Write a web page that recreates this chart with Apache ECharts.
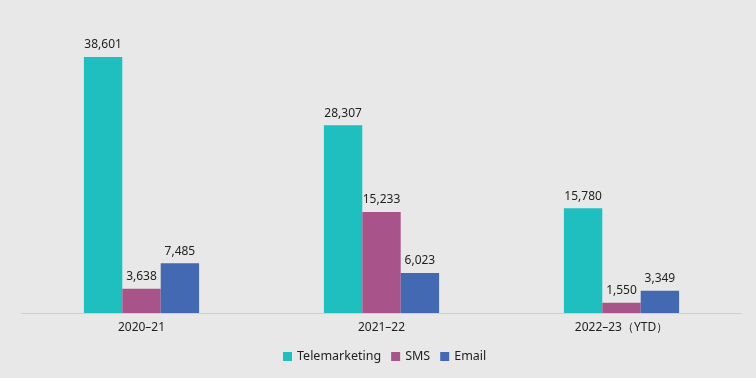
<!DOCTYPE html>
<html><head><meta charset="utf-8">
<script src="https://cdn.jsdelivr.net/npm/echarts@6/dist/echarts.min.js"></script>
<style>html,body{margin:0;padding:0;background:#e8e8e8}#c{width:756px;height:378px}</style>
</head><body><div id="c"></div>
<script>
const categories = ['2020\u201321', '2021\u201322', '2022\u201323\uff08YTD\uff09'];
const telemarketing = [38601, 28307, 15780];
const sms = [3638, 15233, 1550];
const email = [7485, 6023, 3349];
const seriesNames = ['Telemarketing', 'SMS', 'Email'];
const colors = ['#1fbfbf', '#a8548a', '#4369b3'];

const chart = echarts.init(document.getElementById('c'));
const font = '"Noto Sans", sans-serif';
function mk(name, data, color) {
  return {
    name, type: 'bar', data, barGap: '0%', barCategoryGap: '52%',
    itemStyle: { color },
    label: { show: true, position: 'top', distance: 6, color: '#222', fontSize: 12, fontFamily: font,
      formatter: p => p.value.toLocaleString('en-US') }
  };
}
chart.setOption({
  backgroundColor: '#e8e8e8',
  animation: false,
  textStyle: { fontFamily: font },
  grid: { left: 21.5, right: 14.5, top: 47.7, bottom: 65 },
  legend: {
    left: 278, bottom: 10, itemWidth: 9, itemHeight: 9, itemGap: 10,
    icon: 'rect',
    textStyle: { color: '#222', fontSize: 12.5, fontFamily: font },
    data: seriesNames
  },
  xAxis: {
    type: 'category', data: categories,
    axisLine: { lineStyle: { color: '#cfcfcf' } },
    axisTick: { show: false },
    axisLabel: { color: '#222', fontSize: 12, fontFamily: font, margin: 9 }
  },
  yAxis: { type: 'value', min: 0, max: 40000, show: false, splitLine: { show: false } },
  series: [mk(seriesNames[0], telemarketing, colors[0]), mk(seriesNames[1], sms, colors[1]), mk(seriesNames[2], email, colors[2])]
});
</script></body></html>
